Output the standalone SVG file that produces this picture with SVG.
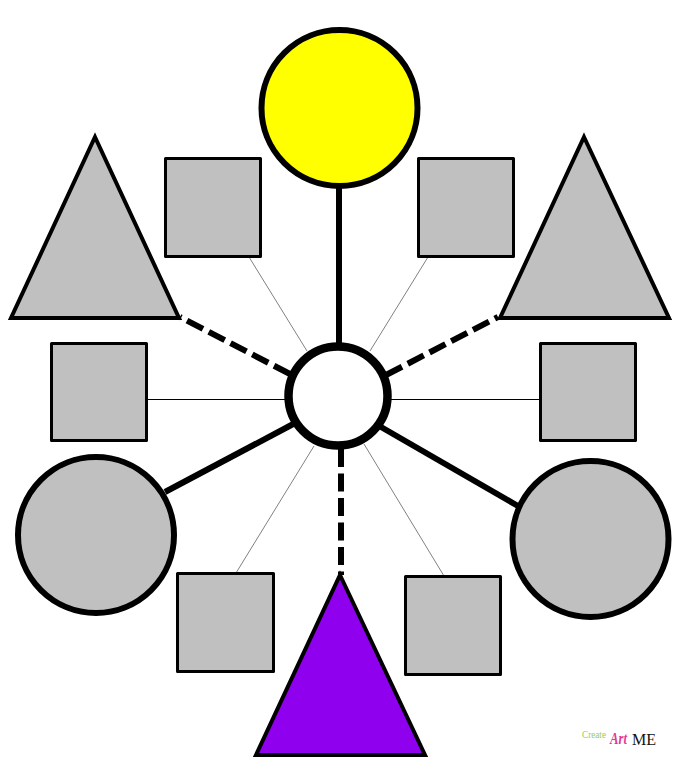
<svg xmlns="http://www.w3.org/2000/svg" width="688" height="770" viewBox="0 0 688 770">
<style>
.g{fill:#c0c0c0;stroke:#000}
.s{stroke-width:3;stroke-linejoin:round}
.t{stroke-width:4;stroke-linejoin:miter}
.c{stroke-width:6}
.k{stroke:#000;fill:none}
.hair{stroke-width:.5}
.thin{stroke-width:1}
.solid{stroke-width:6}
.dash{stroke-width:6;stroke-dasharray:18 6.500}
</style>
<rect width="688" height="770" fill="#fff"/>
<g id="connectors">
<line class="k solid" x1="339" y1="180" x2="339" y2="350"/>
<line class="k solid" x1="165" y1="492" x2="297" y2="422"/>
<line class="k solid" x1="381" y1="427" x2="518" y2="506"/>
<path class="k dash" d="M290 374L180 317"/>
<path class="k dash" d="M386 375L498 317"/>
<path class="k dash" d="M341 449V575"/>
<line class="k hair" x1="249" y1="257" x2="307" y2="351"/>
<line class="k hair" x1="428" y1="257" x2="370" y2="351"/>
<line class="k hair" x1="314" y1="446" x2="236" y2="573"/>
<line class="k hair" x1="364" y1="444" x2="444" y2="576"/>
<line class="k thin" x1="147" y1="399.500" x2="288" y2="399.500"/>
<line class="k thin" x1="390" y1="399.500" x2="540" y2="399.500"/>
</g>
<g id="top-circle"><circle cx="339.500" cy="108" r="78" fill="#ff0" stroke="#000" stroke-width="6"/></g>
<g id="hub"><circle cx="338" cy="396" r="49.500" fill="#fff" stroke="#000" stroke-width="8.500"/></g>
<g id="left-triangle"><polygon class="g t" points="95,137 179,318 11,318"/></g>
<g id="right-triangle"><polygon class="g t" points="584,137 669,318 500,318"/></g>
<g id="bottom-triangle"><polygon points="340,575 425,755 256,755" fill="#8f00ef" stroke="#000" stroke-width="4"/></g>
<g id="left-circle"><circle class="g c" cx="96" cy="535" r="78"/></g>
<g id="right-circle"><circle class="g c" cx="590.500" cy="539" r="78"/></g>
<g id="square-top-left"><rect class="g s" x="165.500" y="158.500" width="95" height="98"/></g>
<g id="square-top-right"><rect class="g s" x="418.500" y="158.500" width="95" height="98"/></g>
<g id="square-mid-left"><rect class="g s" x="51.500" y="343.500" width="95" height="97"/></g>
<g id="square-mid-right"><rect class="g s" x="540.500" y="343.500" width="95" height="97"/></g>
<g id="square-bottom-left"><rect class="g s" x="177.500" y="573.500" width="96" height="98"/></g>
<g id="square-bottom-right"><rect class="g s" x="405.500" y="576.500" width="95" height="98"/></g>
<g id="logo">
<text x="582" y="738" font-family="'Liberation Serif',serif" font-size="11" fill="#9ccc4a" textLength="24" lengthAdjust="spacingAndGlyphs">Create</text>
<text x="610" y="744" font-family="'Liberation Serif',serif" font-style="italic" font-weight="bold" font-size="16" fill="#e0389a" textLength="17" lengthAdjust="spacingAndGlyphs">Art</text>
<text x="632" y="745" font-family="'Liberation Serif',serif" font-size="16" fill="#111" textLength="24" lengthAdjust="spacingAndGlyphs">ME</text>
</g>
</svg>
